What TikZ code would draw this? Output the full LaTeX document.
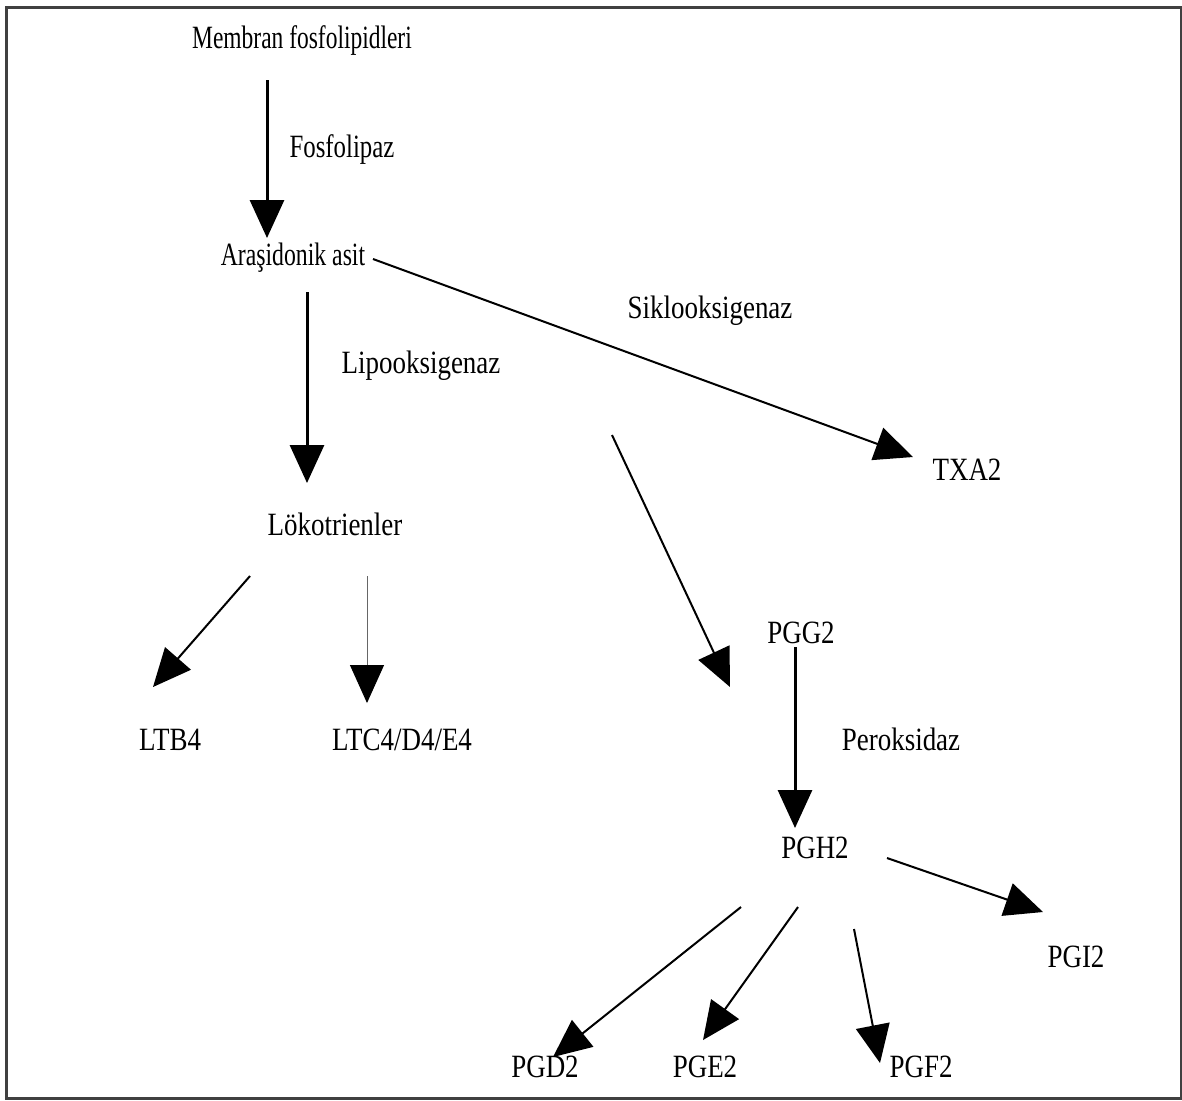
\documentclass[tikz,border=0pt]{standalone}
\usepackage{fontspec}
\setmainfont{Liberation Serif}[FakeStretch=0.83]
\usetikzlibrary{arrows.meta}

\tikzset{
  lbl/.style = {anchor=base, inner sep=0pt, font=\fontsize{16.25}{19}\selectfont},
  fat/.style = {line width=1.5pt, -{Triangle[length=19pt, width=17pt]}},
  med/.style = {line width=1pt, -{Triangle[length=19pt, width=17pt]}},
  thn/.style = {line width=0.5pt, black!60, -{Triangle[length=19pt, width=17pt, color=black]}}
}

\begin{document}
\begin{tikzpicture}[x=0.5pt, y=-0.5pt]

  \useasboundingbox (0,0) rectangle (1182,1100);
  \draw[line width=1.5pt, black!75] (6,7) rectangle (1181,1098.5);

  % substances
  \node[lbl] (membran) at (302, 48) {\scalebox{0.87}[1]{Membran fosfolipidleri}};
  \node[lbl] (arasidonik) at (293, 265) {\scalebox{0.88}[1]{Araşidonik asit}};
  \node[lbl] (lokotrien) at (335, 535) {Lökotrienler};
  \node[lbl] (ltb) at (170, 750) {LTB4};
  \node[lbl] (ltc) at (402, 750) {LTC4/D4/E4};
  \node[lbl] (txa) at (967, 480) {TXA2};
  \node[lbl] (pgg) at (801, 643) {PGG2};
  \node[lbl] (pgh) at (815, 858) {PGH2};
  \node[lbl] (pgi) at (1076, 967) {PGI2};
  \node[lbl] (pgd) at (545, 1077) {PGD2};
  \node[lbl] (pge) at (705, 1077) {PGE2};
  \node[lbl] (pgf) at (921, 1077) {PGF2};

  % enzymes
  \node[lbl] (fosfolipaz) at (342, 157) {\scalebox{0.92}[1]{Fosfolipaz}};
  \node[lbl] (lipo) at (421, 373) {Lipooksigenaz};
  \node[lbl] (siklo) at (710, 318) {Siklooksigenaz};
  \node[lbl] (perok) at (901, 750) {Peroksidaz};

  % arrow ends
  \coordinate (m1) at (267, 80);   \coordinate (m2) at (267, 238);
  \coordinate (a1) at (307, 292);  \coordinate (a2) at (307, 483);
  \coordinate (s1) at (373, 259);  \coordinate (s2) at (913, 457);
  \coordinate (c1) at (612, 435);  \coordinate (c2) at (730, 687);
  \coordinate (l1) at (250, 576);  \coordinate (l2) at (153, 687);
  \coordinate (k1) at (367, 576);  \coordinate (k2) at (367, 703);
  \coordinate (g1) at (795, 647);  \coordinate (g2) at (795, 828);
  \coordinate (i1) at (887, 858);  \coordinate (i2) at (1043, 912);
  \coordinate (d1) at (741, 907);  \coordinate (d2) at (553, 1057);
  \coordinate (e1) at (798, 907);  \coordinate (e2) at (703, 1040);
  \coordinate (f1) at (854, 929);  \coordinate (f2) at (880, 1063);

  \draw[fat] (m1) -- (m2);
  \draw[fat] (a1) -- (a2);
  \draw[med] (s1) -- (s2);
  \draw[med] (c1) -- (c2);
  \draw[med] (l1) -- (l2);
  \draw[thn] (k1) -- (k2);
  \draw[fat] (g1) -- (g2);
  \draw[med] (i1) -- (i2);
  \draw[med] (d1) -- (d2);
  \draw[med] (e1) -- (e2);
  \draw[med] (f1) -- (f2);

\end{tikzpicture}
\end{document}
